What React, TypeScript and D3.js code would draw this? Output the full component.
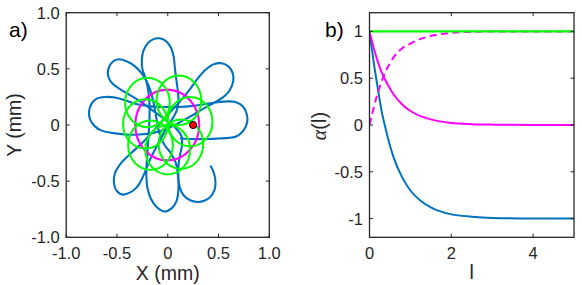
import React from "react";
import * as d3 from "d3";

const W = 582;
const H = 285;

// ---- panel a) trajectories, X / Y in mm ----
// blue run in drawing order (ends in the hook at lower right)
const blueTrack: [number, number][] = [
  [0.12, -0.12], [0.25, -0.125], [0.37, -0.125], [0.5, -0.12], [0.6, -0.115], [0.68, -0.1],
  [0.735, -0.06], [0.77, -0.01], [0.785, 0.05], [0.77, 0.12], [0.74, 0.165], [0.68, 0.2],
  [0.6, 0.21], [0.47, 0.2], [0.36, 0.185], [0.25, 0.17], [0.1, 0.16], [-0.05, 0.16],
  [-0.2, 0.17], [-0.32, 0.19], [-0.42, 0.22], [-0.52, 0.245], [-0.62, 0.25], [-0.7, 0.235],
  [-0.75, 0.19], [-0.775, 0.12], [-0.765, 0.05], [-0.72, -0.01], [-0.65, -0.05], [-0.55, -0.07],
  [-0.42, -0.085], [-0.28, -0.085], [-0.14, -0.07], [0.0, -0.03], [0.13, 0.03], [0.25, 0.09],
  [0.36, 0.15], [0.47, 0.205], [0.55, 0.25], [0.61, 0.31], [0.645, 0.39], [0.64, 0.46],
  [0.6, 0.52], [0.53, 0.55], [0.45, 0.54], [0.37, 0.49], [0.3, 0.42], [0.22, 0.32],
  [0.12, 0.21], [0.0, 0.09], [-0.12, -0.03], [-0.24, -0.15], [-0.36, -0.25], [-0.46, -0.34],
  [-0.52, -0.43], [-0.53, -0.52], [-0.5, -0.59], [-0.44, -0.62], [-0.37, -0.6], [-0.31, -0.56],
  [-0.26, -0.49], [-0.22, -0.41], [-0.18, -0.32], [-0.12, -0.21], [-0.05, -0.09], [0.02, 0.02],
  [0.08, 0.11], [0.105, 0.2], [0.1, 0.3], [0.085, 0.4], [0.07, 0.51], [0.058, 0.61],
  [0.025, 0.7], [-0.03, 0.755], [-0.09, 0.772], [-0.15, 0.76], [-0.2, 0.725], [-0.24, 0.66],
  [-0.255, 0.58], [-0.25, 0.5], [-0.225, 0.43], [-0.2, 0.35], [-0.18, 0.2], [-0.18, 0.05],
  [-0.19, -0.1], [-0.2, -0.25], [-0.21, -0.38], [-0.21, -0.47], [-0.2, -0.56], [-0.17, -0.65],
  [-0.11, -0.73], [-0.03, -0.77], [0.04, -0.74], [0.085, -0.68], [0.105, -0.58], [0.1, -0.45],
  [0.08, -0.34], [0.03, -0.25], [-0.03, -0.18], [-0.08, -0.08], [-0.11, 0.05], [-0.14, 0.2],
  [-0.18, 0.33], [-0.24, 0.44], [-0.32, 0.52], [-0.4, 0.565], [-0.48, 0.585], [-0.54, 0.565],
  [-0.585, 0.5], [-0.585, 0.43], [-0.545, 0.37], [-0.47, 0.32], [-0.38, 0.27], [-0.27, 0.21],
  [-0.15, 0.13], [-0.03, 0.05], [0.07, -0.02], [0.135, -0.1], [0.14, -0.18], [0.12, -0.27],
  [0.105, -0.37], [0.105, -0.47], [0.12, -0.56], [0.16, -0.63], [0.22, -0.67], [0.29, -0.685],
  [0.36, -0.675], [0.42, -0.64], [0.46, -0.58], [0.47, -0.51], [0.455, -0.43], [0.42, -0.36],
];

// green loops: centre x, centre y, radius
const greenCx = [0.22, 0.11, -0.2, -0.22, -0.17, 0.0, 0.13];
const greenCy = [0.03, 0.22, 0.2, 0.01, -0.18, -0.22, -0.17];
const greenR = [0.22, 0.22, 0.22, 0.22, 0.22, 0.22, 0.22];

// magenta orbit
const magentaCentre = [-0.005, 0];
const magentaR = 0.315;

// start point
const startPoint = [0.25, 0];

const xTicksA = [-1, -0.5, 0, 0.5, 1];
const yTicksA = [-1, -0.5, 0, 0.5, 1];
const xTickLabelsA = ["-1.0", "-0.5", "0", "0.5", "1.0"];
const yTickLabelsA = ["-1.0", "-0.5", "0", "0.5", "1.0"];

// ---- panel b) alpha(l) ----
const lVals = [0, 0.1, 0.2, 0.3, 0.4, 0.5, 0.6, 0.8, 1.0, 1.25, 1.5, 2, 2.5, 3, 4, 5];
const alphaBlue = [1, 0.68, 0.4, 0.14, -0.05, -0.22, -0.36, -0.56, -0.7, -0.81, -0.88, -0.955, -0.98, -0.993, -1, -1];
const alphaMagenta = [1, 0.83, 0.68, 0.56, 0.47, 0.39, 0.32, 0.22, 0.15, 0.095, 0.06, 0.022, 0.009, 0.004, 0.001, 0];
const alphaMagentaDash = [0, 0.18, 0.34, 0.47, 0.58, 0.66, 0.73, 0.82, 0.87, 0.92, 0.95, 0.985, 0.995, 1, 1, 1];
const alphaGreen = [1, 1, 1, 1, 1, 1, 1, 1, 1, 1, 1, 1, 1, 1, 1, 1];

const xTicksB = [0, 2, 4];
const yTicksB = [-1, -0.5, 0, 0.5, 1];
const yTickLabelsB = ["-1", "-0.5", "0", "0.5", "1"];

const BLUE = "#0072bd";
const GREEN = "#00ff00";
const MAGENTA = "#ff00ff";
const AX = "#262626";
const FONT = "'Liberation Sans', Arial, Helvetica, sans-serif";

const top = 12.7;
const bottom = 237.3;
const tickLen = 3.5;

function Frame({ x, y, xTicks, yTicks, xLabels, yLabels }: any) {
  const [l, r] = x.range();
  return (
    <g>
      {xTicks.map((t: number, i: number) => (
        <g key={"x" + i}>
          <line x1={x(t)} x2={x(t)} y1={bottom} y2={bottom - tickLen} stroke={AX} strokeWidth={1} />
          <line x1={x(t)} x2={x(t)} y1={top} y2={top + tickLen} stroke={AX} strokeWidth={1} />
          <text x={x(t)} y={258.5} textAnchor="middle" fontSize={16.5} fontFamily={FONT} fill={AX}>
            {xLabels[i]}
          </text>
        </g>
      ))}
      {yTicks.map((t: number, i: number) => (
        <g key={"y" + i}>
          <line x1={l} x2={l + tickLen} y1={y(t)} y2={y(t)} stroke={AX} strokeWidth={1} />
          <line x1={r} x2={r - tickLen} y1={y(t)} y2={y(t)} stroke={AX} strokeWidth={1} />
          <text x={l - 6.5} y={y(t)} dy="0.36em" textAnchor="end" fontSize={16.5} fontFamily={FONT} fill={AX}>
            {yLabels[i]}
          </text>
        </g>
      ))}
      <rect x={l} y={top} width={r - l} height={bottom - top} fill="none" stroke={AX} strokeWidth={1.3} />
    </g>
  );
}

export default function App() {
  // panel a scales
  const xa = d3.scaleLinear().domain([-1, 1]).range([66.2, 269.3]);
  const ya = d3.scaleLinear().domain([-1, 1]).range([bottom, top]);
  // panel b scales
  const xb = d3.scaleLinear().domain([0, 5]).range([369.5, 574]);
  const yb = d3.scaleLinear().domain([-1.2, 1.2]).range([bottom, top]);

  const track = d3
    .line<[number, number]>()
    .x((d) => xa(d[0]))
    .y((d) => ya(d[1]))
    .curve(d3.curveCatmullRom.alpha(0.5));

  const alphaLine = (vals: number[]) =>
    d3
      .line<number>()
      .x((_, i) => xb(lVals[i]))
      .y((d) => yb(d))
      .curve(d3.curveMonotoneX)(vals) || "";

  return (
    <svg width={W} height={H} style={{ position: "absolute", left: 0, top: 0, background: "#fff" }}>
      <defs>
        <clipPath id="clipA">
          <rect x={66.2} y={top} width={269.3 - 66.2} height={bottom - top} />
        </clipPath>
        <clipPath id="clipB">
          <rect x={369.5} y={top} width={574 - 369.5} height={bottom - top} />
        </clipPath>
      </defs>
      <rect width={W} height={H} fill="#fff" />

      {/* panel a */}
      <g clipPath="url(#clipA)">
        <path d={track(blueTrack) || ""} fill="none" stroke={BLUE} strokeWidth={2.1} strokeLinejoin="round" />
        <ellipse
          cx={xa(magentaCentre[0])}
          cy={ya(magentaCentre[1])}
          rx={xa(magentaR) - xa(0)}
          ry={ya(0) - ya(magentaR)}
          fill="none"
          stroke={MAGENTA}
          strokeWidth={2.1}
        />
        {greenCx.map((cx, i) => (
          <ellipse
            key={i}
            cx={xa(cx)}
            cy={ya(greenCy[i])}
            rx={xa(greenR[i]) - xa(0)}
            ry={ya(0) - ya(greenR[i])}
            fill="none"
            stroke={GREEN}
            strokeWidth={2}
          />
        ))}
        <circle cx={xa(startPoint[0])} cy={ya(startPoint[1])} r={3.6} fill="#ff0000" stroke="#000" strokeWidth={1} />
      </g>
      <Frame x={xa} y={ya} xTicks={xTicksA} yTicks={yTicksA} xLabels={xTickLabelsA} yLabels={yTickLabelsA} />
      <text x={167.7} y={280} textAnchor="middle" fontSize={19.5} fontFamily={FONT} fill={AX}>
        X (mm)
      </text>
      <text transform="translate(20.5,125) rotate(-90)" textAnchor="middle" fontSize={19.5} fontFamily={FONT} fill={AX}>
        Y (mm)
      </text>
      <text x={9} y={37} fontSize={21} fontFamily={FONT} fill="#000">
        a)
      </text>

      {/* panel b */}
      <g clipPath="url(#clipB)">
        <path d={alphaLine(alphaBlue)} fill="none" stroke={BLUE} strokeWidth={2} />
        <path d={alphaLine(alphaMagenta)} fill="none" stroke={MAGENTA} strokeWidth={2} />
        <path d={alphaLine(alphaMagentaDash)} fill="none" stroke={MAGENTA} strokeWidth={2} strokeDasharray="7,4.5" />
        <path d={alphaLine(alphaGreen)} fill="none" stroke={GREEN} strokeWidth={2.2} />
      </g>
      <Frame x={xb} y={yb} xTicks={xTicksB} yTicks={yTicksB} xLabels={xTicksB.map(String)} yLabels={yTickLabelsB} />
      <text x={471.7} y={279} textAnchor="middle" fontSize={19.5} fontFamily={FONT} fill={AX}>
        l
      </text>
      <text transform="translate(326,126) rotate(-90)" textAnchor="middle" fontSize={20} fontFamily={FONT} fill={AX}>
        <tspan fontFamily="'Liberation Serif', 'DejaVu Serif', serif" fontStyle="italic">α</tspan>(l)
      </text>
      <text x={325} y={37} fontSize={21} fontFamily={FONT} fill="#000">
        b)
      </text>
    </svg>
  );
}
